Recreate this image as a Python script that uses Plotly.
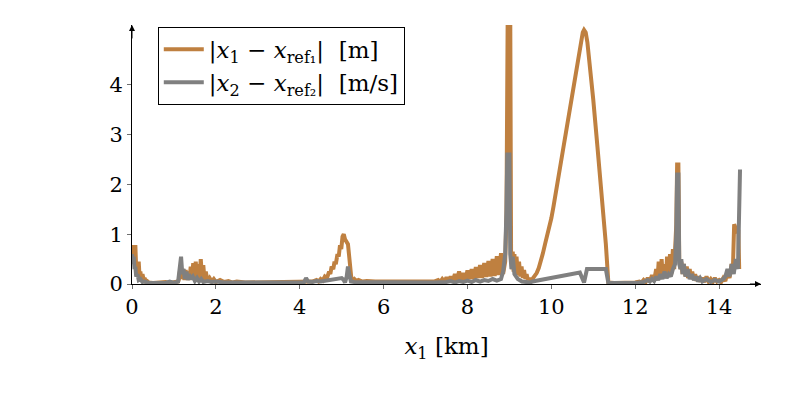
import plotly.graph_objects as go

# |x1 - x_ref1| [m] versus x1 [km]
pos_err_pts = [
    (0.0, 0.78), (0.02, 0.6), (0.04, 0.78), (0.06, 0.5), (0.08, 0.78), (0.1, 0.3),
    (0.12, 0.45), (0.14, 0.2), (0.16, 0.45), (0.18, 0.15), (0.2, 0.25), (0.22, 0.1),
    (0.25, 0.2), (0.28, 0.08), (0.3, 0.12), (0.33, 0.05), (0.36, 0.06), (0.4, 0.03),
    (0.5, 0.02), (0.6, 0.03), (0.7, 0.02), (0.8, 0.04), (0.9, 0.02), (1.0, 0.03),
    (1.1, 0.05), (1.12, 0.1), (1.15, 0.3), (1.18, 0.1), (1.22, 0.3), (1.25, 0.08),
    (1.28, 0.28), (1.31, 0.08), (1.34, 0.25), (1.37, 0.08), (1.4, 0.35), (1.43, 0.1),
    (1.46, 0.42), (1.49, 0.12), (1.52, 0.45), (1.55, 0.12), (1.58, 0.4), (1.61, 0.1),
    (1.64, 0.5), (1.67, 0.12), (1.7, 0.38), (1.73, 0.08), (1.76, 0.25), (1.8, 0.06),
    (1.85, 0.12), (1.9, 0.05), (1.95, 0.1), (2.0, 0.04), (2.1, 0.08), (2.2, 0.04),
    (2.3, 0.06), (2.4, 0.03), (2.5, 0.05), (2.7, 0.03), (3.0, 0.03), (3.5, 0.03),
    (4.0, 0.03), (4.2, 0.03), (4.3, 0.05), (4.4, 0.08), (4.45, 0.05), (4.5, 0.1),
    (4.55, 0.07), (4.6, 0.15), (4.65, 0.12), (4.7, 0.25), (4.73, 0.2), (4.76, 0.35),
    (4.8, 0.3), (4.83, 0.45), (4.86, 0.4), (4.9, 0.6), (4.93, 0.55), (4.96, 0.78),
    (4.99, 0.7), (5.02, 0.95), (5.05, 1.0), (5.08, 0.9), (5.12, 0.85), (5.15, 0.8),
    (5.18, 0.55), (5.2, 0.3), (5.23, 0.12), (5.27, 0.08), (5.3, 0.1), (5.35, 0.06),
    (5.4, 0.08), (5.5, 0.05), (5.6, 0.06), (5.8, 0.05), (6.5, 0.05), (7.2, 0.05),
    (7.3, 0.08), (7.35, 0.04), (7.4, 0.1), (7.45, 0.05), (7.5, 0.13), (7.55, 0.05),
    (7.6, 0.15), (7.65, 0.06), (7.7, 0.2), (7.75, 0.07), (7.8, 0.25), (7.85, 0.08),
    (7.9, 0.22), (7.95, 0.08), (8.0, 0.27), (8.05, 0.1), (8.1, 0.3), (8.15, 0.1),
    (8.2, 0.34), (8.25, 0.12), (8.3, 0.38), (8.35, 0.12), (8.4, 0.42), (8.45, 0.14),
    (8.5, 0.46), (8.55, 0.15), (8.6, 0.5), (8.65, 0.16), (8.7, 0.56), (8.75, 0.18),
    (8.8, 0.62), (8.85, 0.2), (8.9, 0.45), (8.93, 1.4), (8.96, 5.5), (9.02, 5.5),
    (9.04, 0.6), (9.06, 0.3), (9.08, 0.65), (9.1, 0.25), (9.12, 0.6), (9.14, 0.2),
    (9.17, 0.55), (9.2, 0.18), (9.23, 0.45), (9.26, 0.15), (9.29, 0.35), (9.32, 0.12),
    (9.35, 0.28), (9.38, 0.1), (9.41, 0.2), (9.44, 0.08), (9.47, 0.12), (9.5, 0.06),
    (9.55, 0.1), (9.6, 0.15), (9.65, 0.22), (9.7, 0.32), (9.75, 0.45), (9.8, 0.62),
    (9.85, 0.8), (9.9, 0.95), (9.95, 1.12), (10.0, 1.32), (10.05, 1.55), (10.1, 1.78),
    (10.15, 2.02), (10.2, 2.28), (10.25, 2.55), (10.3, 2.8), (10.35, 3.05), (10.4, 3.3),
    (10.45, 3.55), (10.5, 3.85), (10.55, 4.1), (10.6, 4.4), (10.65, 4.65), (10.7, 4.9),
    (10.75, 5.05), (10.78, 5.1), (10.82, 5.05), (10.86, 4.85), (10.9, 4.55), (11.0, 3.7),
    (11.1, 2.75), (11.2, 1.8), (11.3, 0.8), (11.36, 0.03), (11.5, 0.02), (12.0, 0.03),
    (12.1, 0.05), (12.15, 0.03), (12.2, 0.08), (12.25, 0.04), (12.3, 0.12), (12.35, 0.05),
    (12.4, 0.18), (12.45, 0.06), (12.5, 0.3), (12.53, 0.08), (12.56, 0.45), (12.6, 0.1),
    (12.63, 0.5), (12.66, 0.12), (12.7, 0.4), (12.73, 0.12), (12.76, 0.55), (12.8, 0.15),
    (12.83, 0.6), (12.86, 0.2), (12.9, 0.7), (12.93, 0.3), (12.96, 0.75), (12.98, 1.2),
    (13.0, 2.4), (13.03, 2.4), (13.05, 0.5), (13.08, 0.3), (13.1, 0.45), (13.13, 0.2),
    (13.16, 0.4), (13.2, 0.15), (13.23, 0.35), (13.26, 0.12), (13.3, 0.3), (13.33, 0.1),
    (13.36, 0.25), (13.4, 0.08), (13.43, 0.2), (13.46, 0.06), (13.5, 0.15), (13.55, 0.05),
    (13.6, 0.12), (13.65, 0.04), (13.7, 0.15), (13.75, 0.05), (13.8, 0.1), (13.85, 0.04),
    (13.9, 0.12), (13.95, 0.05), (14.0, 0.08), (14.05, 0.04), (14.1, 0.12), (14.15, 0.06),
    (14.2, 0.25), (14.25, 0.12), (14.3, 0.4), (14.33, 0.3), (14.36, 1.2), (14.4, 1.1),
    (14.43, 1.05), (14.46, 1.05), (14.48, 0.3),
]

# |x2 - x_ref2| [m/s] versus x1 [km]
vel_err_pts = [
    (0.0, 0.6), (0.02, 0.4), (0.04, 0.55), (0.06, 0.3), (0.08, 0.35), (0.1, 0.15),
    (0.13, 0.2), (0.16, 0.08), (0.2, 0.1), (0.25, 0.04), (0.3, 0.05), (0.4, 0.02),
    (0.5, 0.02), (0.6, 0.03), (0.8, 0.02), (0.9, 0.05), (1.0, 0.02), (1.1, 0.05),
    (1.14, 0.35), (1.17, 0.55), (1.2, 0.2), (1.23, 0.3), (1.26, 0.1), (1.3, 0.25),
    (1.33, 0.08), (1.36, 0.2), (1.4, 0.1), (1.45, 0.15), (1.5, 0.06), (1.55, 0.12),
    (1.6, 0.05), (1.65, 0.1), (1.7, 0.04), (1.8, 0.06), (1.9, 0.04), (2.0, 0.05),
    (2.2, 0.03), (2.5, 0.03), (3.0, 0.02), (3.5, 0.02), (4.0, 0.02), (4.1, 0.03),
    (4.15, 0.12), (4.2, 0.05), (4.3, 0.04), (4.4, 0.06), (4.5, 0.05), (4.6, 0.06),
    (4.7, 0.07), (4.8, 0.08), (4.9, 0.1), (5.0, 0.12), (5.05, 0.08), (5.08, 0.03),
    (5.12, 0.15), (5.15, 0.35), (5.18, 0.2), (5.22, 0.05), (5.3, 0.04), (6.0, 0.03),
    (7.2, 0.03), (7.5, 0.04), (7.6, 0.06), (7.7, 0.03), (7.8, 0.06), (7.9, 0.04),
    (8.0, 0.07), (8.1, 0.04), (8.2, 0.08), (8.3, 0.05), (8.4, 0.08), (8.5, 0.06),
    (8.6, 0.1), (8.7, 0.07), (8.8, 0.1), (8.85, 0.25), (8.9, 0.6), (8.93, 1.5),
    (8.95, 2.6), (9.0, 2.6), (9.02, 0.6), (9.05, 0.3), (9.08, 0.55), (9.12, 0.2),
    (9.2, 0.1), (9.3, 0.05), (9.5, 0.03), (9.55, 0.05), (10.68, 0.23), (10.78, 0.03),
    (10.85, 0.3), (11.3, 0.3), (11.36, 0.02), (12.0, 0.02), (12.2, 0.04), (12.3, 0.08),
    (12.35, 0.05), (12.4, 0.1), (12.45, 0.06), (12.5, 0.15), (12.55, 0.08), (12.6, 0.2),
    (12.65, 0.1), (12.7, 0.25), (12.75, 0.12), (12.8, 0.2), (12.85, 0.15), (12.9, 0.3),
    (12.95, 0.4), (12.98, 1.0), (13.0, 2.2), (13.03, 2.2), (13.05, 0.4), (13.08, 0.3),
    (13.1, 0.5), (13.13, 0.2), (13.16, 0.4), (13.2, 0.15), (13.25, 0.3), (13.3, 0.1),
    (13.35, 0.2), (13.4, 0.08), (13.45, 0.15), (13.5, 0.05), (13.55, 0.12), (13.6, 0.05),
    (13.7, 0.1), (13.8, 0.04), (13.9, 0.08), (14.0, 0.05), (14.1, 0.1), (14.15, 0.15),
    (14.2, 0.3), (14.25, 0.15), (14.3, 0.4), (14.35, 0.2), (14.4, 0.5), (14.45, 0.3),
    (14.5, 2.3),
]

x_ticks = [0, 2, 4, 6, 8, 10, 12, 14]
y_ticks = [0, 1, 2, 3, 4]
x_range = [0, 15.0]
y_range = [0, 5.2]

pos_x = [p[0] for p in pos_err_pts]
pos_y = [p[1] for p in pos_err_pts]
vel_x = [p[0] for p in vel_err_pts]
vel_y = [p[1] for p in vel_err_pts]

ORANGE = "rgb(191,128,64)"
GRAY = "rgb(128,128,128)"
FONT = "DejaVu Serif, Liberation Serif, serif"

fig = go.Figure()
fig.add_trace(go.Scatter(
    x=pos_x, y=pos_y, mode="lines",
    line=dict(color=ORANGE, width=4),
    name="|<i>x</i><sub>1</sub> − <i>x</i><sub>ref₁</sub>|  [m]",
))
fig.add_trace(go.Scatter(
    x=vel_x, y=vel_y, mode="lines",
    line=dict(color=GRAY, width=4),
    name="|<i>x</i><sub>2</sub> − <i>x</i><sub>ref₂</sub>|  [m/s]",
))

axis_common = dict(
    showgrid=False, zeroline=False, showline=True, linecolor="black", linewidth=1,
    ticks="outside", ticklen=4, tickcolor="rgb(110,110,110)", automargin=False,
    tickfont=dict(family=FONT, size=21, color="black"),
)

# the page body adds an 8 px offset; margins compensate for it
fig.update_layout(
    width=788, height=396,
    margin=dict(l=124, r=35, t=17, b=120),
    plot_bgcolor="white", paper_bgcolor="white",
    xaxis=dict(range=x_range, tickvals=x_ticks, ticktext=[str(v) for v in x_ticks],
               title=dict(text="<i>x</i><sub>1</sub> [km]", font=dict(family=FONT, size=23, color="black"),
                          standoff=19),
               **axis_common),
    yaxis=dict(range=y_range, tickvals=y_ticks, ticktext=[str(v) for v in y_ticks],
               **axis_common),
    showlegend=True,
    legend=dict(x=0.041, y=0.993, xanchor="left", yanchor="top",
                bordercolor="black", borderwidth=1, bgcolor="white",
                font=dict(family=FONT, size=23, color="black"),
                tracegroupgap=0, itemwidth=40),
)

# axis arrow heads
fig.add_annotation(x=x_range[1], y=0, ax=x_range[1] - 0.3, ay=0, xref="x", yref="y",
                   axref="x", ayref="y", text="", showarrow=True, arrowhead=2,
                   arrowsize=1.2, arrowwidth=1, arrowcolor="black")
fig.add_annotation(x=0, y=y_range[1], ax=0, ay=y_range[1] - 0.3, xref="x", yref="y",
                   axref="x", ayref="y", text="", showarrow=True, arrowhead=2,
                   arrowsize=1.2, arrowwidth=1, arrowcolor="black")

fig.write_html("out.html")
